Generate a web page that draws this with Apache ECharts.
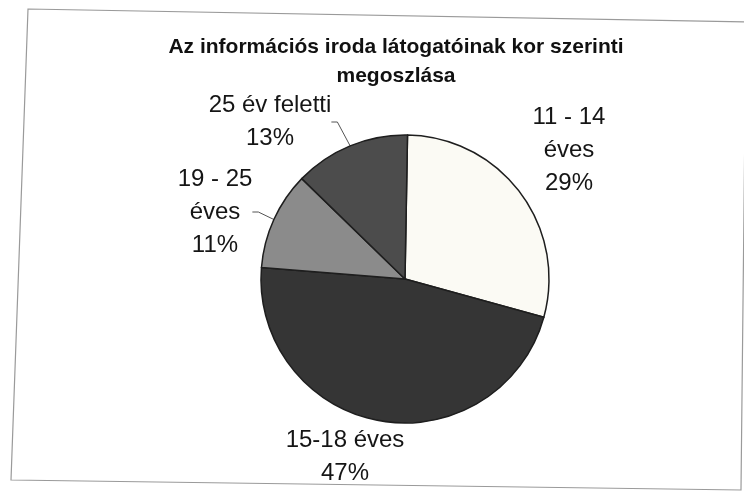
<!DOCTYPE html>
<html>
<head>
<meta charset="utf-8">
<script src="https://cdn.jsdelivr.net/npm/echarts@6/dist/echarts.min.js"></script>
<style>
  html, body { margin: 0; padding: 0; background: #fff; }
  #chart { width: 744px; height: 493px; }
</style>
</head>
<body>
<div id="chart"></div>
<script>
// kategóriák és arányok (%)
var categories = ['11 - 14\néves', '15-18 éves', '19 - 25\néves', '25 év feletti'];
var values = [29, 47, 11, 13];
var colors = ['#fbfaf4', '#353535', '#8b8b8b', '#4c4c4c'];
// címke középpontok a képen
var labelPos = [[569, 150], [345, 457], [215, 212], [270, 122]];
var showLine = [false, false, true, true];

var chart = echarts.init(document.getElementById('chart'));

var data = categories.map(function (name, i) {
    return {
        name: name,
        value: values[i],
        itemStyle: { color: colors[i] },
        labelLine: { show: showLine[i] }
    };
});

var option = {
    backgroundColor: '#ffffff',
    animation: false,
    title: {
        text: 'Az információs iroda látogatóinak kor szerinti\nmegoszlása',
        left: 391,
        top: 28,
        textAlign: 'center',
        textStyle: {
            fontFamily: 'Liberation Sans',
            fontSize: 21,
            fontWeight: 'bold',
            color: '#111',
            lineHeight: 29
        }
    },
    graphic: [{
        type: 'polygon',
        shape: { points: [[28, 9], [746, 22], [741, 490], [11, 480]] },
        style: { fill: 'none', stroke: '#9a9a9a', lineWidth: 1.2 },
        silent: true
    }],
    series: [{
        type: 'pie',
        center: [405, 279],
        radius: 144,
        startAngle: 89,
        clockwise: true,
        data: data,
        itemStyle: { borderColor: '#1e1e1e', borderWidth: 1.5 },
        label: {
            position: 'outside',
            formatter: '{b}\n{c}%',
            fontFamily: 'Liberation Sans',
            fontSize: 24,
            lineHeight: 33,
            color: '#151515',
            align: 'center'
        },
        labelLine: {
            length: 6,
            length2: 6,
            lineStyle: { color: '#555', width: 1 }
        },
        labelLayout: function (params) {
            var p = labelPos[params.dataIndex];
            return { x: p[0], y: p[1], align: 'center', verticalAlign: 'middle' };
        }
    }]
};

chart.setOption(option);
</script>
</body>
</html>
